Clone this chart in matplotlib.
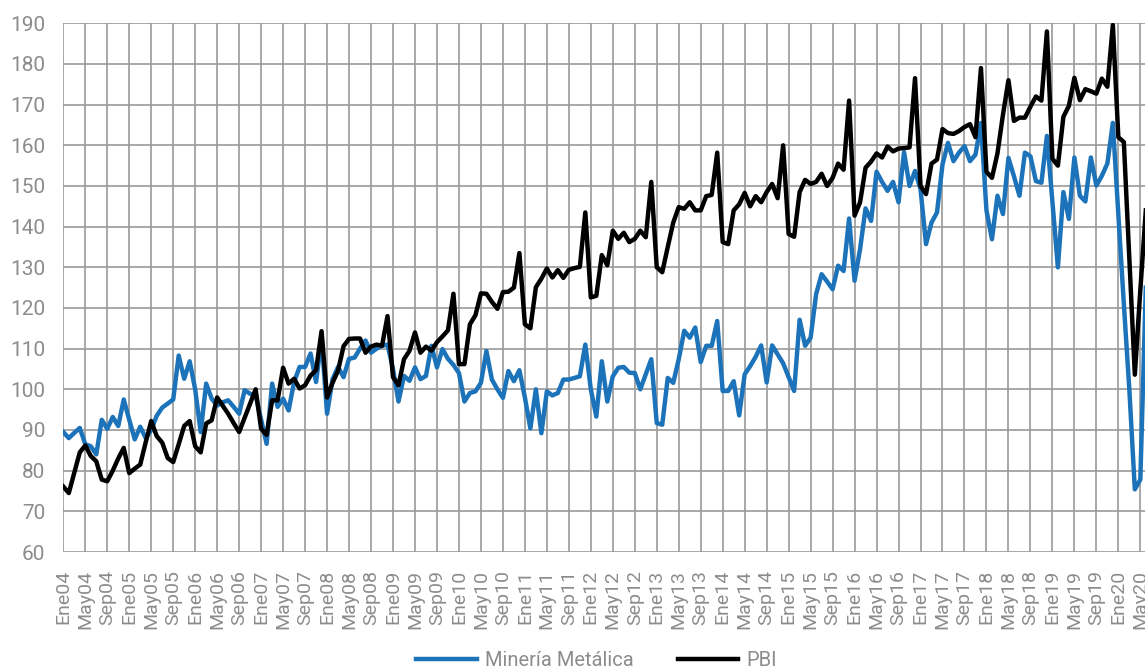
import matplotlib.pyplot as plt
import numpy as np

plt.rcParams['font.family'] = ['Roboto', 'DejaVu Sans']

# Indices mensuales Ene04 - Jun20
mineria = [89.5, 88, 89.3, 90.5, 86.5, 86, 84, 92.5, 90.3, 93.2, 91, 97.5,
           92.5, 87.7, 90.8, 88, 90, 93.5, 95.5, 96.5, 97.5, 108.3, 102.6, 106.9,
           100, 89.5, 101.4, 97.7, 96, 96.8, 97.3, 95.7, 94, 99.8, 98.9, 98.5,
           92.5, 86.6, 101.4, 95.7, 97.7, 94.8, 101.8, 105.5, 105.5, 108.8, 101.8, 112.5,
           94, 102.5, 105.5, 103, 107.5, 107.8, 110, 112, 109, 110, 110.7, 111,
           105, 97, 103.3, 102.1, 105.4, 102.5, 103.3, 110.7, 105.4, 109.9, 107.5, 106,
           104, 97, 99.1, 99.5, 101.6, 109.4, 102.4, 100, 97.9, 104.5, 102, 104.7,
           98, 90.4, 100, 89.2, 99.5, 98.5, 99.1, 102.4, 102.4, 102.8, 103.2, 111,
           100, 93.3, 106.9, 97, 103.2, 105.3, 105.5, 104.1, 104, 100, 103.7, 107.4,
           91.7, 91.3, 102.8, 101.6, 107.4, 114.4, 112.7, 115.2, 106.7, 110.7, 110.7, 116.8,
           99.6, 99.6, 102, 93.6, 103.7, 105.7, 108, 110.8, 101.7, 110.8, 108.6, 106.4,
           103, 99.6, 117.1, 110.7, 112.7, 123.4, 128.3, 126.5, 124.6, 130.4, 129.1, 142,
           126.7, 134.5, 144.5, 141.4, 153.5, 151, 148.8, 151, 146, 158.3, 150, 153.7,
           149.2, 135.7, 141, 143.5, 155.3, 160.6, 156.1, 158.2, 159.8, 156.1, 157.7, 165.5,
           144, 136.9, 147.6, 143.1, 156.9, 152.4, 147.6, 158.2, 157.3, 151.2, 150.8, 162.3,
           146, 130, 148.5, 141.9, 157, 147.6, 146.2, 157, 150.1, 152.5, 155.5, 165.5,
           143, 121, 100, 75.4, 77.8, 125]

pbi = [76.1, 74.5, 79.5, 84.5, 86.2, 83.6, 82.3, 77.8, 77.4, 80, 83, 85.6,
       79.4, 80.5, 81.5, 87, 92.2, 88.5, 86.9, 83.1, 82.1, 86.5, 91, 92.2,
       86, 84.5, 91.6, 92.4, 98, 96, 94, 91.7, 89.5, 93, 96.5, 100,
       90.3, 88.8, 97.3, 97.3, 105.3, 101.4, 102.6, 100.2, 101, 103.4, 104.7, 114.3,
       98, 101.6, 104.6, 110.6, 112.4, 112.5, 112.5, 109, 110.5, 111, 110.7, 118,
       103, 101, 107.4, 109.5, 114, 109, 110.5, 109.5, 111.6, 113, 114.5, 123.5,
       106.2, 106.2, 116, 118.2, 123.6, 123.5, 121.5, 119.8, 123.9, 124, 125, 133.5,
       116, 115, 125.1, 127.2, 129.7, 127.5, 129.3, 127.4, 129.4, 129.8, 130.1, 143.5,
       122.6, 123, 133, 130.5, 139, 137, 138.5, 136.2, 137, 139, 137.4, 151,
       130, 128.8, 135, 141, 144.8, 144.4, 146, 144, 144, 147.5, 147.8, 158.2,
       136.2, 135.7, 144, 145.5, 148.3, 145, 147.5, 146, 148.5, 150.5, 147, 160,
       138.2, 137.5, 148.5, 151.5, 150.5, 151, 153, 150, 152, 155.5, 154, 171,
       142.7, 146, 154.5, 156, 158, 157, 159.7, 158.5, 159.2, 159.3, 159.5, 176.5,
       150, 148, 155.5, 156.5, 164, 163, 162.8, 163.5, 164.5, 165.2, 162, 179,
       153.5, 152, 158, 167.5, 176, 166, 166.8, 166.8, 169.5, 172, 171, 188,
       156.7, 155, 167, 169.7, 176.6, 171.1, 173.8, 173.3, 172.7, 176.4, 174.4, 189.6,
       162, 160.8, 132, 103.6, 124.4, 144]

meses = ['Ene', 'May', 'Sep']
anios = range(4, 21)
etiquetas = [f'{m}{a:02d}' for a in anios for m in meses][:50]

x = np.arange(len(pbi))

fig = plt.figure(figsize=(11.45, 6.69), dpi=100)
ax = fig.add_axes([63.3 / 1145, 1 - 552 / 669, 1 - 63.3 / 1145, (552 - 23.3) / 669])

ax.plot(x, mineria, color='#1c73b9', lw=3.2, label='Minería Metálica')
ax.plot(x, pbi, color='black', lw=3.2, label='PBI')

ax.set_xlim(0, (1145 - 63.3) / 5.495)
ax.set_ylim(60, 190)
ax.set_yticks(range(60, 191, 10))
ax.set_xticks(range(0, 4 * len(etiquetas), 4))
ax.set_xticklabels(etiquetas, rotation=90)
ax.grid(True, color='#9a9a9a', lw=1.2)
ax.set_axisbelow(True)
for s in ax.spines.values():
    s.set_visible(False)
ax.tick_params(length=0, colors='#8c8c8c')
ax.tick_params(axis='y', labelsize=15, pad=13)
ax.tick_params(axis='x', labelsize=14, pad=13)

fig.legend(loc='center', bbox_to_anchor=(0.521, 0.012), ncol=2, frameon=False,
           fontsize=14.5, labelcolor='#8c8c8c', handlelength=3.0,
           handletextpad=0.4, columnspacing=2.2)

fig.savefig('out.png', dpi=100)
